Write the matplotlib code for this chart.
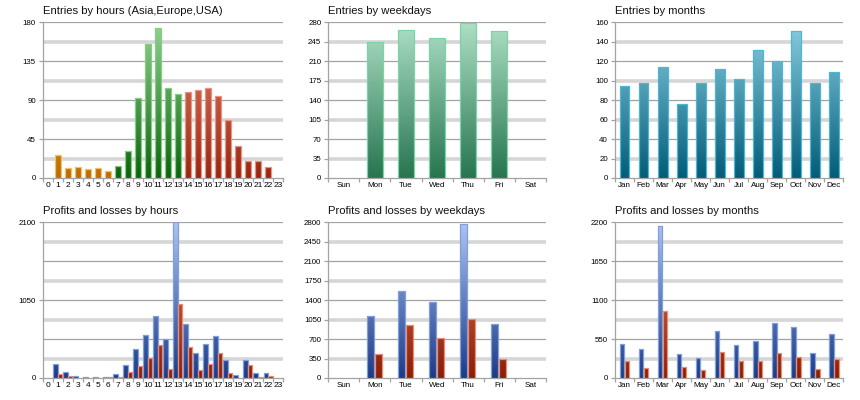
import numpy as np
import matplotlib
matplotlib.use('Agg')
import matplotlib.pyplot as plt
from matplotlib.colors import LinearSegmentedColormap
from matplotlib.patches import Rectangle

plt.rcParams['font.family'] = ['Liberation Sans', 'DejaVu Sans']

# ---------------- data ----------------
hours = [str(h) for h in range(24)]
entries_hours = [0, 27, 12, 13, 10, 11, 8, 14, 31, 92, 155, 173, 104, 97,
                 100, 102, 104, 95, 67, 37, 20, 20, 13, 0]
hour_region = ['asia'] * 7 + ['europe'] * 7 + ['usa'] * 10

weekdays = ['Sun', 'Mon', 'Tue', 'Wed', 'Thu', 'Fri', 'Sat']
entries_weekdays = [0, 244, 266, 252, 279, 264, 0]

months = ['Jan', 'Feb', 'Mar', 'Apr', 'May', 'Jun', 'Jul', 'Aug', 'Sep',
          'Oct', 'Nov', 'Dec']
entries_months = [95, 98, 114, 76, 98, 112, 102, 132, 120, 151, 98, 109]

profit_hours = [0, 193, 81, 25, 15, 15, 18, 58, 175, 396, 585, 836, 522, 2100,
                728, 337, 459, 571, 243, 40, 247, 72, 72, 0]
loss_hours = [0, 54, 31, 0, 0, 0, 15, 9, 85, 162, 270, 441, 121, 998,
              423, 103, 184, 337, 63, 0, 180, 18, 31, 0]

profit_weekdays = [0, 1121, 1559, 1373, 2764, 965, 0]
loss_weekdays = [0, 426, 947, 725, 1055, 336, 0]

profit_months = [480, 405, 2143, 344, 287, 669, 471, 528, 777, 725, 349, 626]
loss_months = [236, 141, 942, 160, 118, 367, 245, 236, 358, 297, 132, 268]

# ---------------- styles ----------------
STYLES = {
    'asia':    ('#BC6C00', '#F6C676', '#F5C070'),
    'europe':  ('#0C640C', '#92D492', '#86CC86'),
    'usa':     ('#9A2610', '#E68874', '#E89480'),
    'weekday': ('#277550', '#AEE0C6', '#7CD4A6'),
    'month':   ('#035C78', '#8ACEE2', '#4CB6D6'),
    'profit':  ('#1C3A86', '#AEC4F2', '#7EA0E2'),
    'loss':    ('#8A1E06', '#E27E66', '#EC8C72'),
}
CMAPS = {k: LinearSegmentedColormap.from_list(k, [v[0], v[1]]) for k, v in STYLES.items()}
GRAD = np.linspace(0, 1, 256).reshape(-1, 1)


def grad_bar(ax, x, w, h, ymax, style):
    if h <= 0:
        return
    rect = Rectangle((x - w / 2, 0), w, h, transform=ax.transData,
                     facecolor='none', edgecolor=STYLES[style][2], lw=0.9, zorder=4)
    im = ax.imshow(GRAD, cmap=CMAPS[style], origin='lower', aspect='auto',
                   extent=[x - w / 2, x + w / 2, 0, ymax], zorder=3,
                   interpolation='bilinear')
    clip = Rectangle((x - w / 2, 0), w, h, transform=ax.transData)
    im.set_clip_path(clip)
    ax.add_patch(rect)


def setup(ax, title, cats, ymax, nlab, fs_x=5.8):
    n = len(cats)
    step = ymax / 8.0
    for k in range(1, 9):
        y = k * step
        if k % 2 == 0:
            ax.axhline(y, color='#A3A3A3', lw=0.9, zorder=1)
        else:
            ax.axhline(y, color='#D6D6D6', lw=2.6, zorder=1)
    ax.set_xlim(-0.5, n - 0.5)
    ax.set_ylim(0, ymax)
    for s in ['top', 'right']:
        ax.spines[s].set_visible(False)
    for s in ['left', 'bottom']:
        ax.spines[s].set_color('#A3A3A3')
        ax.spines[s].set_linewidth(0.9)
    labstep = ymax / nlab
    ax.set_yticks([labstep * i for i in range(nlab + 1)])
    ax.set_yticklabels([f'{labstep * i:g}' for i in range(nlab + 1)])
    ax.set_xticks(range(n))
    ax.set_xticklabels(cats)
    ax.set_xticks(np.arange(-0.5, n, 1.0), minor=True)
    ax.tick_params(axis='x', which='major', length=0, pad=3, labelsize=fs_x)
    ax.tick_params(axis='x', which='minor', length=3, color='#A3A3A3', width=0.9)
    ax.tick_params(axis='y', which='major', length=3, color='#A3A3A3', width=0.9,
                   labelsize=5.7, pad=2)
    ax.text(0, 1.04, title, transform=ax.transAxes, ha='left', va='bottom',
            fontsize=8.1, color='#111111')


fig = plt.figure(figsize=(8.6, 4.0), dpi=100)
top_b, bot_b, hgt = 0.555, 0.055, 0.389
cols = [(0.0497, 0.2794), (0.3818, 0.2528), (0.7151, 0.2655)]

# Entries by hours
ax = fig.add_axes([cols[0][0], top_b, cols[0][1], hgt])
setup(ax, 'Entries by hours (Asia,Europe,USA)', hours, 180, 4, fs_x=6.0)
for i, v in enumerate(entries_hours):
    grad_bar(ax, i, 0.56, v, 180, hour_region[i])

# Entries by weekdays
ax = fig.add_axes([cols[1][0], top_b, cols[1][1], hgt])
setup(ax, 'Entries by weekdays', weekdays, 280, 8)
for i, v in enumerate(entries_weekdays):
    grad_bar(ax, i, 0.5, v, 280, 'weekday')

# Entries by months
ax = fig.add_axes([cols[2][0], top_b, cols[2][1], hgt])
setup(ax, 'Entries by months', months, 160, 8)
for i, v in enumerate(entries_months):
    grad_bar(ax, i, 0.52, v, 160, 'month')

# Profits and losses by hours
ax = fig.add_axes([cols[0][0], bot_b, cols[0][1], hgt])
setup(ax, 'Profits and losses by hours', hours, 2100, 2, fs_x=6.0)
for i, (p, l) in enumerate(zip(profit_hours, loss_hours)):
    grad_bar(ax, i - 0.23, 0.44, p, 2100, 'profit')
    grad_bar(ax, i + 0.23, 0.44, l, 2100, 'loss')

# Profits and losses by weekdays
ax = fig.add_axes([cols[1][0], bot_b, cols[1][1], hgt])
setup(ax, 'Profits and losses by weekdays', weekdays, 2800, 8)
for i, (p, l) in enumerate(zip(profit_weekdays, loss_weekdays)):
    grad_bar(ax, i - 0.14, 0.23, p, 2800, 'profit')
    grad_bar(ax, i + 0.12, 0.23, l, 2800, 'loss')

# Profits and losses by months
ax = fig.add_axes([cols[2][0], bot_b, cols[2][1], hgt])
setup(ax, 'Profits and losses by months', months, 2200, 4)
for i, (p, l) in enumerate(zip(profit_months, loss_months)):
    grad_bar(ax, i - 0.13, 0.24, p, 2200, 'profit')
    grad_bar(ax, i + 0.13, 0.24, l, 2200, 'loss')

fig.savefig('out.png', dpi=100)
